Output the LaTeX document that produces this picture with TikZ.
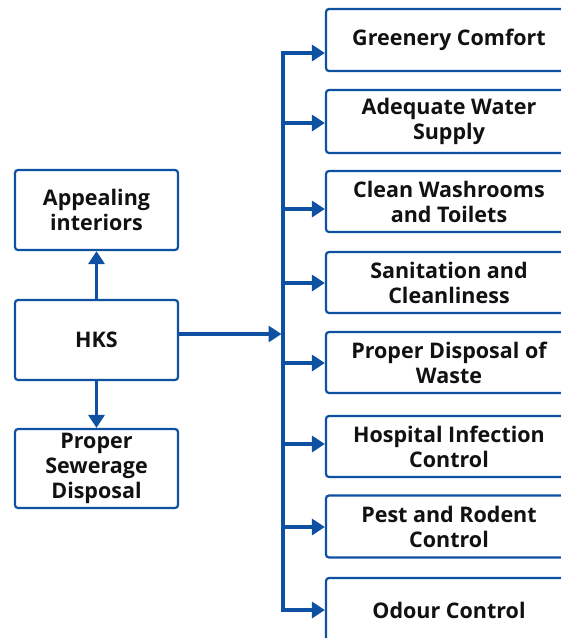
\documentclass[tikz,border=0pt]{standalone}
\usepackage{fontspec}
\setmainfont{Open Sans}
\usetikzlibrary{arrows.meta}
\definecolor{hblue}{RGB}{14,80,162}
\definecolor{htext}{RGB}{17,17,17}
\tikzset{
  box/.style={draw=hblue, line width=2.2pt, rounded corners=3pt, fill=white,
    align=center, text=htext, font=\fontsize{21.5}{25}\selectfont\bfseries, inner sep=0pt},
  rbox/.style={box, minimum width=246pt},
  lbox/.style={box, minimum width=163pt, minimum height=80pt},
  conn/.style={draw=hblue, line width=3.2pt},
  arr/.style={conn, -{Triangle[length=13pt,width=16pt]}}
}
\begin{document}
\begin{tikzpicture}[x=1pt,y=-1pt]
\useasboundingbox (0,0) rectangle (561,638);
% left boxes
\node[lbox] (app) at (96.5,210) {Appealing\\interiors};
\node[lbox] (hks) at (96.5,340) {HKS};
\node[lbox, minimum height=79pt] (sew) at (96.5,468.5) {Proper\\Sewerage\\Disposal};
% right boxes
\node[rbox, minimum height=62pt] (b1) at (449,40) {Greenery Comfort};
\node[rbox, minimum height=63pt] (b2) at (449,121.5) {Adequate Water\\Supply};
\node[rbox, minimum height=61pt] (b3) at (449,201.5) {Clean Washrooms\\and Toilets};
\node[rbox, minimum height=61pt] (b4) at (449,282.5) {Sanitation and\\Cleanliness};
\node[rbox, minimum height=61pt] (b5) at (449,362.5) {Proper Disposal of\\Waste};
\node[rbox, minimum height=61pt] (b6) at (449,446.5) {Hospital Infection\\Control};
\node[rbox, minimum height=62pt] (b7) at (449,526.5) {Pest and Rodent\\Control};
\node[rbox, minimum height=64pt] (b8) at (449,610) {Odour Control};
% trunk coordinates
\coordinate (t1) at (283,53);
\coordinate (t2) at (283,123);
\coordinate (t3) at (283,209);
\coordinate (t4) at (283,283);
\coordinate (t5) at (283,363);
\coordinate (t6) at (283,444);
\coordinate (t7) at (283,527);
\coordinate (t8) at (283,610);
\coordinate (th) at (283,334);
% trunk
\draw[conn, line cap=rect] (t1) -- (t8);
\foreach \i in {1,...,8} {
  \draw[arr] (t\i) -- (t\i -| b\i.west);
}
% left arrows
\draw[arr] (hks.east |- th) -- ([xshift=-1.5pt]th);
\draw[arr] (hks.north) -- (app.south);
\draw[arr] (hks.south) -- (sew.north);
\end{tikzpicture}
\end{document}
